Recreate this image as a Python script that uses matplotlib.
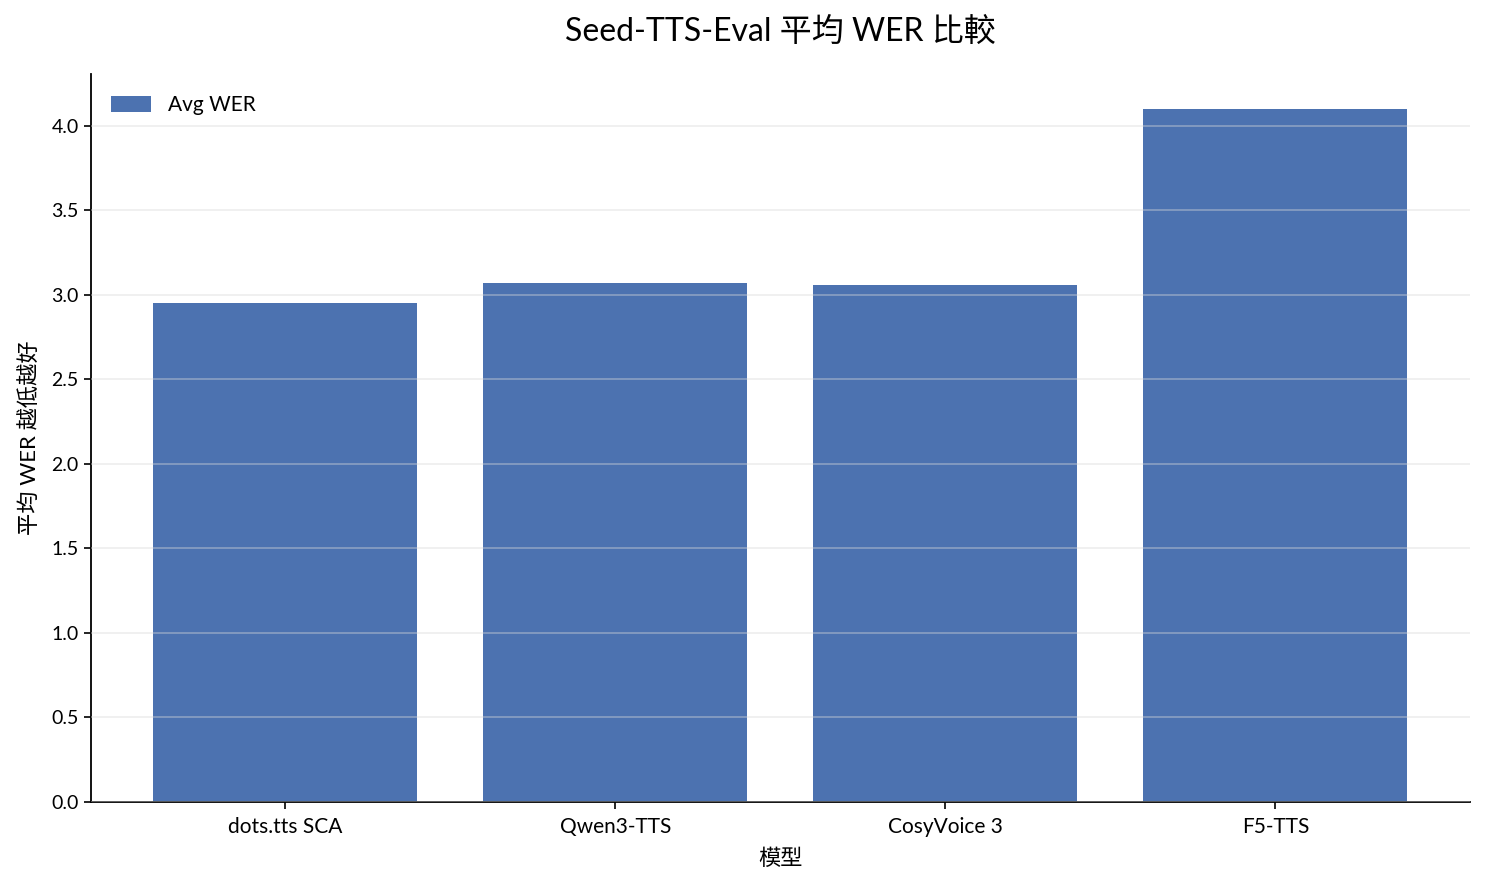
import matplotlib
matplotlib.use("Agg")
import matplotlib.pyplot as plt

# 数据
models = ["dots.tts SCA", "Qwen3-TTS", "CosyVoice 3", "F5-TTS"]
avg_wer = [2.95, 3.07, 3.06, 4.10]

plt.rcParams["font.family"] = ["Lato", "Noto Sans CJK TC", "DejaVu Sans"]
plt.rcParams["axes.unicode_minus"] = False

fig, ax = plt.subplots(figsize=(14.85, 8.84), dpi=100)
ax.bar(models, avg_wer, width=0.8, color="#4C72B0", label="Avg WER", zorder=1)

ax.grid(axis="y", color="#d8d8d8", linewidth=1.2, alpha=0.45, zorder=2)
ax.set_axisbelow(False)
for s in ["top", "right"]:
    ax.spines[s].set_visible(False)
for s in ["left", "bottom"]:
    ax.spines[s].set_linewidth(1.3)

ax.tick_params(axis="y", labelsize=14, length=5, width=1.2)
ax.tick_params(axis="x", labelsize=15, length=5, width=1.2, pad=6)
ax.set_xlabel("模型", fontsize=16, labelpad=8)
ax.set_ylabel("平均 WER 越低越好", fontsize=16, labelpad=8)
ax.set_title("Seed-TTS-Eval 平均 WER 比較", fontsize=23, pad=24)
ax.legend(loc="upper left", frameon=False, fontsize=15, handlelength=1.9,
          handleheight=0.8, borderaxespad=0.6)

fig.subplots_adjust(left=0.061, right=0.99, top=0.916, bottom=0.093)
fig.savefig("out.png", dpi=100)
